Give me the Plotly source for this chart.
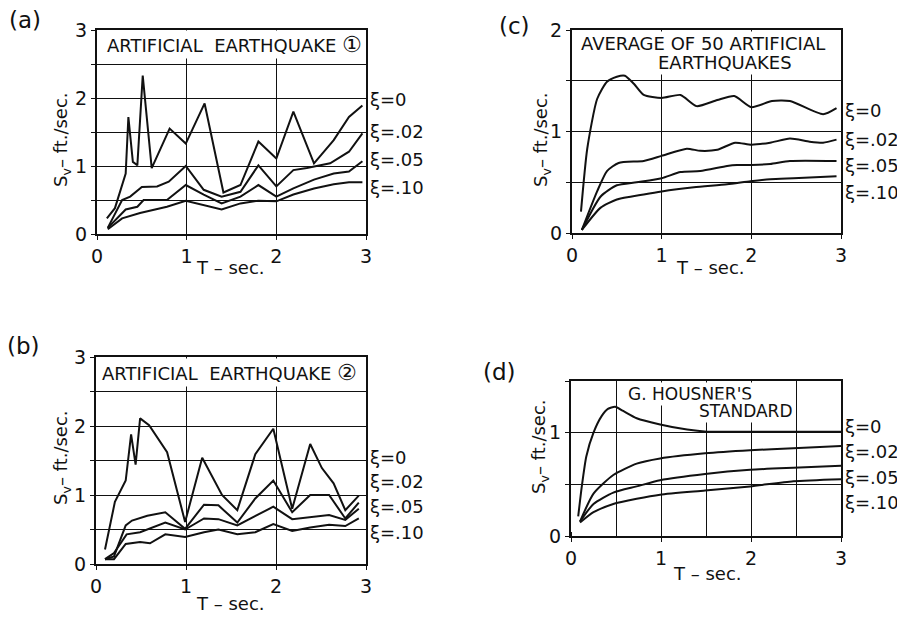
import plotly.graph_objects as go

# ---------------- data ----------------
# (a) Artificial earthquake 1
a_T0 = [0.11, 0.2, 0.32, 0.35, 0.40, 0.45, 0.51, 0.61, 0.81, 0.99, 1.20, 1.41, 1.60, 1.80, 2.0, 2.19, 2.42, 2.64, 2.81, 2.96]
a_V0 = [0.23, 0.38, 0.89, 1.72, 1.06, 1.01, 2.33, 0.97, 1.55, 1.33, 1.92, 0.61, 0.72, 1.36, 1.11, 1.80, 1.04, 1.38, 1.72, 1.89]
a_T02 = [0.12, 0.28, 0.37, 0.5, 0.67, 0.8, 0.99, 1.19, 1.39, 1.6, 1.8, 2.0, 2.19, 2.34, 2.6, 2.81, 2.96]
a_V02 = [0.09, 0.5, 0.55, 0.69, 0.70, 0.77, 1.0, 0.65, 0.55, 0.62, 1.01, 0.70, 0.94, 0.97, 1.04, 1.21, 1.48]
a_T05 = [0.12, 0.32, 0.45, 0.52, 0.78, 0.99, 1.19, 1.39, 1.6, 1.8, 2.0, 2.19, 2.42, 2.64, 2.81, 2.96]
a_V05 = [0.09, 0.36, 0.40, 0.5, 0.5, 0.72, 0.58, 0.45, 0.55, 0.72, 0.55, 0.67, 0.80, 0.89, 0.92, 1.07]
a_T10 = [0.12, 0.28, 0.48, 0.78, 0.99, 1.19, 1.39, 1.6, 1.8, 2.0, 2.19, 2.42, 2.64, 2.81, 2.96]
a_V10 = [0.07, 0.23, 0.31, 0.40, 0.49, 0.43, 0.36, 0.45, 0.49, 0.48, 0.58, 0.67, 0.73, 0.76, 0.76]

# (b) Artificial earthquake 2
b_T0 = [0.1, 0.21, 0.33, 0.39, 0.44, 0.49, 0.59, 0.79, 0.99, 1.18, 1.4, 1.57, 1.77, 1.97, 2.18, 2.38, 2.51, 2.64, 2.77, 2.92]
b_V0 = [0.21, 0.9, 1.21, 1.88, 1.44, 2.11, 2.01, 1.62, 0.61, 1.54, 1.0, 0.78, 1.59, 1.96, 0.80, 1.74, 1.39, 1.17, 0.78, 0.99]
b_T02 = [0.1, 0.2, 0.33, 0.4, 0.57, 0.77, 0.99, 1.2, 1.36, 1.57, 1.77, 1.97, 2.18, 2.38, 2.59, 2.77, 2.92]
b_V02 = [0.07, 0.11, 0.56, 0.63, 0.70, 0.75, 0.51, 0.86, 0.85, 0.60, 0.95, 1.21, 0.75, 1.0, 1.0, 0.66, 0.89]
b_T05 = [0.1, 0.2, 0.34, 0.49, 0.77, 0.99, 1.2, 1.36, 1.57, 1.77, 1.97, 2.18, 2.38, 2.59, 2.77, 2.92]
b_V05 = [0.07, 0.16, 0.43, 0.46, 0.60, 0.50, 0.66, 0.65, 0.56, 0.70, 0.83, 0.65, 0.68, 0.71, 0.64, 0.80]
b_T10 = [0.1, 0.2, 0.33, 0.49, 0.6, 0.77, 0.99, 1.2, 1.36, 1.57, 1.77, 1.97, 2.18, 2.38, 2.59, 2.77, 2.92]
b_V10 = [0.07, 0.07, 0.29, 0.32, 0.30, 0.43, 0.39, 0.46, 0.50, 0.43, 0.46, 0.58, 0.48, 0.53, 0.57, 0.55, 0.66]

# (c) Average of 50 artificial earthquakes
c_T0 = [0.10, 0.17, 0.28, 0.39, 0.5, 0.59, 0.69, 0.8, 1.0, 1.21, 1.39, 1.62, 1.81, 2.0, 2.23, 2.43, 2.8, 2.95]
c_V0 = [0.21, 0.83, 1.32, 1.49, 1.54, 1.55, 1.47, 1.36, 1.33, 1.36, 1.25, 1.31, 1.35, 1.24, 1.30, 1.30, 1.17, 1.23]
c_T02 = [0.11, 0.28, 0.39, 0.52, 0.8, 1.0, 1.28, 1.43, 1.62, 1.82, 2.0, 2.21, 2.43, 2.65, 2.8, 2.95]
c_V02 = [0.03, 0.41, 0.61, 0.69, 0.71, 0.76, 0.83, 0.81, 0.82, 0.89, 0.87, 0.89, 0.93, 0.90, 0.89, 0.92]
c_T05 = [0.11, 0.32, 0.5, 0.72, 1.0, 1.21, 1.43, 1.73, 1.84, 2.0, 2.21, 2.43, 2.95]
c_V05 = [0.03, 0.36, 0.47, 0.50, 0.54, 0.60, 0.61, 0.66, 0.67, 0.67, 0.68, 0.71, 0.71]
c_T10 = [0.11, 0.32, 0.5, 0.8, 1.0, 1.36, 1.73, 1.99, 2.21, 2.47, 2.95]
c_V10 = [0.03, 0.25, 0.33, 0.38, 0.41, 0.45, 0.48, 0.51, 0.53, 0.54, 0.56]

# (d) G. Housner's standard
d_T0 = [0.08, 0.12, 0.17, 0.25, 0.34, 0.41, 0.49, 0.58, 0.73, 0.99, 1.29, 1.51, 2.0, 2.5, 3.0]
d_V0 = [0.19, 0.48, 0.77, 1.0, 1.16, 1.23, 1.25, 1.21, 1.14, 1.08, 1.03, 1.01, 1.01, 1.01, 1.01]
d_T02 = [0.1, 0.25, 0.47, 0.73, 0.99, 1.49, 1.99, 2.47, 3.0]
d_V02 = [0.14, 0.41, 0.59, 0.70, 0.75, 0.80, 0.83, 0.85, 0.87]
d_T05 = [0.1, 0.25, 0.47, 0.73, 0.99, 1.49, 1.99, 2.47, 3.0]
d_V05 = [0.14, 0.31, 0.42, 0.48, 0.54, 0.60, 0.64, 0.66, 0.68]
d_T10 = [0.1, 0.25, 0.47, 0.73, 0.99, 1.49, 1.99, 2.47, 3.0]
d_V10 = [0.13, 0.23, 0.31, 0.36, 0.40, 0.44, 0.48, 0.53, 0.55]

damping_labels = ["ξ=0", "ξ=.02", "ξ=.05", "ξ=.10"]
x_title = "T – sec."
y_title = "S<sub>v</sub>– ft./sec."

# ---------------- figure ----------------
FONT = "DejaVu Sans"
BLACK = "#111111"
OFF = 8                      # page body margin in the browser
W, H = 905 - OFF, 620 - OFF
fig = go.Figure()

def px_x(p):
    return (p - OFF) / W
def px_y(p):
    return 1 - (p - OFF) / H

panels = [
    ("", [(a_T0, a_V0), (a_T02, a_V02), (a_T05, a_V05), (a_T10, a_V10)], "linear", [1.98, 1.5, 1.09, 0.69]),
    ("2", [(c_T0, c_V0), (c_T02, c_V02), (c_T05, c_V05), (c_T10, c_V10)], "spline", [1.21, 0.92, 0.67, 0.40]),
    ("3", [(b_T0, b_V0), (b_T02, b_V02), (b_T05, b_V05), (b_T10, b_V10)], "linear", [1.55, 1.19, 0.83, 0.45]),
    ("4", [(d_T0, d_V0), (d_T02, d_V02), (d_T05, d_V05), (d_T10, d_V10)], "spline", [1.06, 0.82, 0.57, 0.32]),
]

for suf, series, shape, lab_y in panels:
    for (t, v) in series:
        fig.add_trace(go.Scatter(x=t, y=v, mode="lines", xaxis="x" + suf, yaxis="y" + suf,
                                 line=dict(color=BLACK, width=2, shape=shape,
                                           smoothing=0.6 if shape == "spline" else None),
                                 showlegend=False, hoverinfo="skip"))
    for lab, yy in zip(damping_labels, lab_y):
        fig.add_annotation(text=lab, x=1.0, xref=("x" + suf + " domain"), xanchor="left", xshift=2,
                           y=yy, yref="y" + suf, yanchor="middle", showarrow=False,
                           font=dict(family=FONT, size=18, color=BLACK))

common_x = dict(range=[0, 3], tickvals=[0, 1, 2, 3], showline=True, mirror=True, linecolor=BLACK,
                linewidth=2, ticks="outside", ticklen=4, tickcolor=BLACK, automargin=False,
                tickfont=dict(family=FONT, size=19, color=BLACK), zeroline=False,
                showgrid=True, gridcolor=BLACK, gridwidth=1.3)
common_y = dict(showline=True, mirror=True, linecolor=BLACK, linewidth=2, ticks="outside", ticklen=4,
                tickcolor=BLACK, tickfont=dict(family=FONT, size=19, color=BLACK), zeroline=False,
                showgrid=True, gridcolor=BLACK, gridwidth=1.3, automargin=False,
                minor=dict(dtick=0.5, showgrid=True, gridcolor=BLACK, gridwidth=1.3, ticks="outside",
                           ticklen=4, tickcolor=BLACK))

fig.update_layout(
    template="none",
    width=W, height=H, margin=dict(l=0, r=0, t=0, b=0, autoexpand=False),
    paper_bgcolor="white", plot_bgcolor="white", showlegend=False,
    xaxis=dict(common_x, domain=[px_x(97), px_x(366)], anchor="y"),
    yaxis=dict(common_y, domain=[px_y(234), px_y(30)], anchor="x", range=[0, 3], tickvals=[0, 1, 2, 3]),
    xaxis2=dict(common_x, domain=[px_x(572), px_x(841)], anchor="y2"),
    yaxis2=dict(common_y, domain=[px_y(233), px_y(30)], anchor="x2", range=[0, 2], tickvals=[0, 1, 2]),
    xaxis3=dict(common_x, domain=[px_x(96), px_x(366)], anchor="y3"),
    yaxis3=dict(common_y, domain=[px_y(564), px_y(357)], anchor="x3", range=[0, 3], tickvals=[0, 1, 2, 3]),
    xaxis4=dict(common_x, domain=[px_x(571), px_x(841)], anchor="y4",
                minor=dict(dtick=0.5, showgrid=True, gridcolor=BLACK, gridwidth=1.3, ticks="inside",
                           ticklen=4, tickcolor=BLACK)),
    yaxis4=dict(common_y, domain=[px_y(536), px_y(381)], anchor="x4", range=[0, 1.5], tickvals=[0, 1]),
)

def paper_text(text, px, py, size, angle=0):
    fig.add_annotation(text=text, x=px_x(px), y=px_y(py), xref="paper", yref="paper",
                       xanchor="center", yanchor="middle", showarrow=False, textangle=angle,
                       font=dict(family=FONT, size=size, color=BLACK))

# axis titles
for px, py in [(230, 267), (710, 267), (230, 603), (707, 573)]:
    paper_text(x_title, px, py, 18)
for px, py in [(62, 140), (542, 140), (62, 458), (540, 447)]:
    paper_text(y_title, px, py, 18, angle=-90)

# panel titles (white-backed text boxes inside the frames)
def box(text, x, xref, y, yref, anchor="left", size=18):
    fig.add_annotation(text=text, x=x, xref=xref, y=y, yref=yref, xanchor=anchor, yanchor="middle",
                       showarrow=False, bgcolor="white", borderpad=1,
                       font=dict(family=FONT, size=size, color=BLACK))

box("ARTIFICIAL  EARTHQUAKE <span style='font-size:22px'>①</span>", 0.03, "x domain", 2.79, "y")
box("AVERAGE OF 50 ARTIFICIAL", 0.025, "x2 domain", 1.87, "y2")
box("EARTHQUAKES", 0.57, "x2 domain", 1.68, "y2", anchor="center")
box("ARTIFICIAL  EARTHQUAKE <span style='font-size:22px'>②</span>", 0.015, "x3 domain", 2.78, "y3")
box("G. HOUSNER'S", 0.205, "x4 domain", 1.37, "y4", size=17)
box("STANDARD", 0.465, "x4 domain", 1.21, "y4", size=17)

# panel letters
for lab, px, py in [("(a)", 25, 20), ("(c)", 515, 26), ("(b)", 23, 346), ("(d)", 500, 372)]:
    paper_text(lab, px, py, 23)

fig.write_html("out.html")
